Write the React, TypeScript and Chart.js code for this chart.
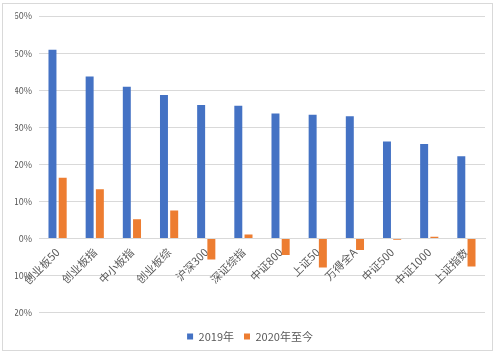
import React, { useEffect, useRef } from "react";
import { Chart, registerables } from "chart.js";

Chart.register(...registerables);

const categories = ["创业板50", "创业板指", "中小板指", "创业板综", "沪深300", "深证综指", "中证800", "上证50", "万得全A", "中证500", "中证1000", "上证指数"];
const series2019 = [50.9, 43.7, 40.9, 38.7, 36.0, 35.8, 33.7, 33.4, 33.0, 26.2, 25.5, 22.2];
const series2020 = [16.4, 13.3, 5.2, 7.6, -5.6, 1.1, -4.4, -7.8, -3.1, -0.3, 0.5, -7.5];
const seriesNames = ["2019年", "2020年至今"];
const yMin = -20;
const yMax = 60;
const yStep = 10;

const FONT = "'Noto Sans CJK SC', 'Noto Sans', sans-serif";

const framePlugin = {
  id: "frame",
  beforeDraw(chart: any) {
    const ctx = chart.ctx;
    ctx.save();
    ctx.fillStyle = "#ffffff";
    ctx.fillRect(0, 0, chart.width, chart.height);
    ctx.strokeStyle = "#d9d9d9";
    ctx.lineWidth = 1;
    ctx.strokeRect(2.5, 3.5, 490, 347);
    ctx.restore();
  },
};

export default function App() {
  const ref = useRef<HTMLCanvasElement | null>(null);
  useEffect(() => {
    if (!ref.current) return;
    const chart = new Chart(ref.current, {
      type: "bar",
      data: {
        labels: categories,
        datasets: [
          { label: seriesNames[0], data: series2019, backgroundColor: "#4472C4", borderWidth: 0, categoryPercentage: 0.55, barPercentage: 0.78 },
          { label: seriesNames[1], data: series2020, backgroundColor: "#ED7D31", borderWidth: 0, categoryPercentage: 0.55, barPercentage: 0.78 },
        ],
      },
      options: {
        responsive: false,
        animation: false,
        layout: { padding: { left: 15, right: 15, top: 16, bottom: 4 } },
        scales: {
          x: {
            axis: "x",
            position: { y: 0 } as any,
            afterFit: (s: any) => { s.height = 0; },
            grid: { display: false, drawTicks: false },
            border: { display: true, color: "#d9d9d9" },
            ticks: {
              autoSkip: false,
              minRotation: 45,
              maxRotation: 45,
              padding: 7,
              color: "#595959",
              font: { family: FONT, size: 11 },
            },
          },
          y: {
            min: yMin,
            max: yMax,
            afterFit: (s: any) => { s.width = 24; },
            grid: { color: "#d9d9d9", drawTicks: false },
            border: { display: false },
            ticks: {
              stepSize: yStep,
              padding: 7,
              color: "#595959",
              font: { family: FONT, size: 9 },
              callback: (v: any) => v + "%",
            },
          },
        },
        plugins: {
          legend: {
            position: "bottom",
            title: { display: true, text: "", font: { size: 1 }, padding: { top: 7, bottom: 0 } },
            labels: {
              boxWidth: 6,
              boxHeight: 6,
              padding: 10,
              color: "#595959",
              font: { family: FONT, size: 11 },
            },
          },
          tooltip: { enabled: false },
        },
      },
      plugins: [framePlugin],
    } as any);
    return () => chart.destroy();
  }, []);
  return (
    <div style={{ position: "absolute", left: 0, top: 0, width: 500, height: 356 }}>
      <canvas ref={ref} width={500} height={356} />
    </div>
  );
}
